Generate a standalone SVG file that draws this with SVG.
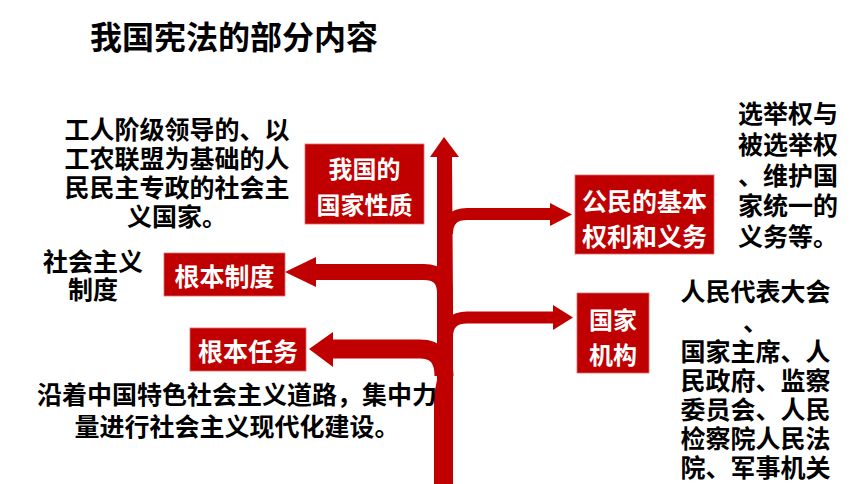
<svg xmlns="http://www.w3.org/2000/svg" width="860" height="484" viewBox="0 0 860 484">
<style>
.t{font-family:"Noto Sans CJK SC","Noto Sans",sans-serif;font-weight:700;fill:#000;font-size:25px}
.w{font-family:"Noto Sans CJK SC","Noto Sans",sans-serif;font-weight:700;fill:#fff;text-anchor:middle}
.box{fill:#c00000;stroke:#e06a6a;stroke-width:0.8}
.br{fill:none;stroke:#c00000}
.hd{fill:#c00000}
.m{text-anchor:middle}
</style>
<rect width="860" height="484" fill="#fff"/>
<text class="t" x="90" y="49" style="font-size:32px">我国宪法的部分内容</text>

<g id="connectors">
  <path class="hd" d="M437,157 L437,380 L434,395 L434,484 L453,484 L453,300 L452,157 Z"/>
  <polygon class="hd" points="444,137 459,157 430,157"/>
  <path class="br" stroke-width="12" d="M447,234 Q447,214 467,214 H551"/>
  <polygon class="hd" points="550,203 572,214.5 550,226"/>
  <path class="br" stroke-width="12" d="M447,337 Q447,317.5 467,317.5 H554"/>
  <polygon class="hd" points="553,305 573,317.5 553,330"/>
  <path class="br" stroke-width="16" d="M315,272 H424 Q445,272 445,293"/>
  <polygon class="hd" points="316,257 285,272 316,287"/>
  <path class="br" stroke-width="19" d="M332,349 H420 Q444,349 444,376"/>
  <polygon class="hd" points="333,332 309,349 333,367"/>
</g>

<g id="node-nature">
  <rect class="box" x="305" y="144" width="119" height="80"/>
  <text class="w" font-size="24"><tspan x="364.5" y="178">我国的</tspan><tspan x="364.5" y="214">国家性质</tspan></text>
</g>
<g id="node-rights">
  <rect class="box" x="575" y="175" width="139" height="79"/>
  <text class="w" font-size="25"><tspan x="644.5" y="211">公民的基本</tspan><tspan x="644.5" y="246">权利和义务</tspan></text>
</g>
<g id="node-organs">
  <rect class="box" x="577" y="293" width="72" height="80"/>
  <text class="w" font-size="24"><tspan x="613" y="329">国家</tspan><tspan x="613" y="364">机构</tspan></text>
</g>
<g id="node-system">
  <rect class="box" x="164" y="253" width="121" height="43"/>
  <text class="w" x="224.5" y="286" font-size="25">根本制度</text>
</g>
<g id="node-task">
  <rect class="box" x="190" y="328" width="116" height="43"/>
  <text class="w" x="248" y="361" font-size="25">根本任务</text>
</g>

<g id="desc-nature">
  <text class="t m"><tspan x="177" y="139">工人阶级领导的、以</tspan><tspan x="177" y="168">工农联盟为基础的人</tspan><tspan x="177" y="197">民民主专政的社会主</tspan><tspan x="177" y="226">义国家。</tspan></text>
</g>
<g id="desc-system">
  <text class="t m"><tspan x="93" y="271">社会主义</tspan><tspan x="93" y="299">制度</tspan></text>
</g>
<g id="desc-task">
  <text class="t m"><tspan x="237" y="404">沿着中国特色社会主义道路，集中力</tspan><tspan x="237" y="436">量进行社会主义现代化建设。</tspan></text>
</g>
<g id="desc-rights">
  <text class="t"><tspan x="738" y="123">选举权与</tspan><tspan x="738" y="154">被选举权</tspan><tspan x="738" y="184.5">、维护国</tspan><tspan x="738" y="215">家统一的</tspan><tspan x="738" y="246">义务等。</tspan></text>
</g>
<g id="desc-organs">
  <text class="t m"><tspan x="755.5" y="301">人民代表大会</tspan><tspan x="755.5" y="331">、</tspan><tspan x="755.5" y="361">国家主席、人</tspan><tspan x="755.5" y="390">民政府、监察</tspan><tspan x="755.5" y="419">委员会、人民</tspan><tspan x="755.5" y="448">检察院人民法</tspan><tspan x="755.5" y="477">院、军事机关</tspan></text>
</g>
</svg>
